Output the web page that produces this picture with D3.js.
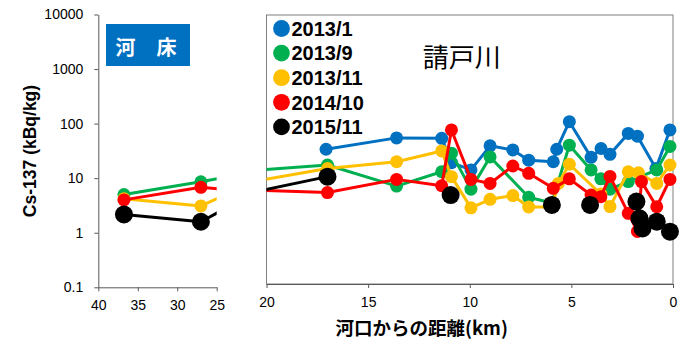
<!DOCTYPE html>
<html lang="ja">
<head>
  <meta charset="utf-8">
  <title>Cs-137 請戸川</title>
  <script src="https://d3js.org/d3.v7.min.js"></script>
  <style>
    body { margin: 0; background: #fff; }
    text { font-family: "Liberation Sans", Arial, sans-serif; }
    .jp { font-family: "Noto Sans CJK JP", sans-serif; }
  </style>
</head>
<body>
<script>
  var w = 689;
  var h = 357;

  // data: distance from river mouth (km) and Cs-137 (kBq/kg)
  var seriesNames = ["2013/1", "2013/9", "2013/11", "2014/10", "2015/11"];
  var seriesColors = ["#0070C0", "#00B050", "#FFC000", "#FF0000", "#000000"];

  var blueKm  = [17.07, 13.6, 11.38, 10.9, 9.94, 9.0, 7.88, 7.1, 5.89, 5.72, 5.1, 4.03, 3.54, 3.1, 2.2, 1.75, 0.84, 0.15];
  var blueVal = [32, 52, 51, 18, 13.2, 37, 31, 20, 18.7, 32, 104, 22.6, 33, 25.7, 63, 56, 14, 73];

  var greenKm  = [36.75, 27, 17, 13.6, 11.38, 10.9, 9.94, 9.0, 7.1, 5.96, 5.1, 4.03, 3.55, 3.1, 2.2, 0.8, 0.15];
  var greenVal = [5.0, 8.6, 16.3, 6.6, 12.2, 27, 5.8, 23, 4.1, 3.2, 38, 13.2, 9.0, 5.8, 8.0, 13.2, 36];

  var yellowKm  = [36.75, 27, 17, 13.6, 11.38, 10.9, 9.94, 9.0, 7.88, 7.1, 5.96, 5.64, 5.1, 3.55, 3.1, 2.2, 1.7, 0.8, 0.15];
  var yellowVal = [4.2, 3.1, 14, 18.7, 29.7, 9.9, 2.6, 3.75, 4.4, 2.7, 2.7, 7.4, 16.8, 4.7, 2.75, 12.2, 11.7, 7.4, 16.3];

  var redKm  = [36.75, 27, 17, 13.6, 11.38, 10.9, 9.94, 9.0, 7.88, 7.1, 5.89, 5.1, 4.03, 3.55, 3.1, 2.2, 1.75, 1.55, 0.8, 0.15];
  var redVal = [4.0, 6.8, 5.0, 8.8, 6.7, 73, 8.8, 7.4, 15.6, 11.4, 6.0, 9.0, 4.5, 4.2, 10, 2.06, 0.95, 8.0, 2.73, 8.8];

  // null = break in the line
  var blackKm  = [36.75, 27, 17, null, 10.94, null, 5.96, null, 4.08, null, 1.8, 1.65, 1.5, 0.8, 0.15];
  var blackVal = [2.17, 1.59, 9.9, null, 4.5, null, 2.95, null, 2.95, null, 3.4, 1.66, 1.08, 1.44, 0.94];

  var yTicks = [0.1, 1, 10, 100, 1000, 10000];
  var xTicksLeft = [40, 35, 30, 25];
  var xTicksRight = [20, 15, 10, 5, 0];

  var allKm = [blueKm, greenKm, yellowKm, redKm, blackKm];
  var allVal = [blueVal, greenVal, yellowVal, redVal, blackVal];
  var radius = [6.5, 6.5, 6.5, 6.5, 9];

  var series = allKm.map(function(km, i){
    return km.map(function(k, j){ return {km: k, v: allVal[i][j]}; });
  });

  var svg = d3.select("body").append("svg")
    .attr("width", w)
    .attr("height", h);

  // scales
  var xL = d3.scaleLinear().domain([40, 25]).range([98.3, 216.7]);
  var yL = d3.scaleLog().domain([0.1, 10000]).range([287.3, 14.5]);
  var xR = d3.scaleLinear().domain([20, 0]).range([266.5, 673]);
  var yR = d3.scaleLog().domain([0.1, 10000]).range([284, 15]);

  var defs = svg.append("defs");
  defs.append("clipPath").attr("id", "clipL").append("rect")
    .attr("x", 98.3).attr("y", 0).attr("width", 216.7 - 98.3).attr("height", 287.3);
  defs.append("clipPath").attr("id", "clipR").append("rect")
    .attr("x", 266.5).attr("y", 15).attr("width", 673 - 266.5).attr("height", 284 - 15);

  function styleAxis(g){
    g.select(".domain").attr("stroke", "#595959");
    g.selectAll(".tick line").attr("stroke", "#595959");
    g.selectAll(".tick text")
      .attr("fill", "#000")
      .style("font-family", "'Liberation Sans', Arial, sans-serif")
      .style("font-size", "14px");
  }

  // left panel axes
  svg.append("g")
    .attr("transform", "translate(98.3,0)")
    .call(d3.axisLeft(yL).tickValues(yTicks).tickSize(4).tickSizeOuter(0).tickPadding(11)
      .tickFormat(function(d){ return d; }))
    .call(styleAxis);

  svg.append("g")
    .attr("transform", "translate(0,287.3)")
    .call(d3.axisBottom(xL).tickValues(xTicksLeft).tickSize(4).tickSizeOuter(0).tickPadding(9))
    .call(styleAxis);

  // right panel frame + axis
  svg.append("rect")
    .attr("x", 266.5).attr("y", 15)
    .attr("width", 673 - 266.5).attr("height", 284 - 15)
    .attr("fill", "none")
    .attr("stroke", "#7f7f7f")
    .attr("stroke-width", 1);

  svg.append("g")
    .attr("transform", "translate(0,284)")
    .call(d3.axisBottom(xR).tickValues(xTicksRight).tickSize(4).tickSizeOuter(0).tickPadding(9))
    .call(styleAxis);

  function drawPanel(x, y, clipId, domain){
    var g = svg.append("g");
    series.forEach(function(data, i){
      var line = d3.line()
        .defined(function(d){ return d.v != null; })
        .x(function(d){ return x(d.km); })
        .y(function(d){ return y(d.v); });
      g.append("path")
        .datum(data)
        .attr("clip-path", "url(#" + clipId + ")")
        .attr("d", line)
        .attr("fill", "none")
        .attr("stroke", seriesColors[i])
        .attr("stroke-width", 3)
        .attr("stroke-linejoin", "round");
      g.selectAll(null)
        .data(data.filter(function(d){
          return d.v != null && d.km <= domain[0] && d.km >= domain[1];
        }))
        .enter()
        .append("circle")
        .attr("cx", function(d){ return x(d.km); })
        .attr("cy", function(d){ return y(d.v); })
        .attr("r", radius[i])
        .attr("fill", seriesColors[i]);
    });
  }

  drawPanel(xL, yL, "clipL", [40, 25]);
  drawPanel(xR, yR, "clipR", [20, 0]);

  // legend
  var legend = svg.append("g");
  seriesNames.forEach(function(name, i){
    var ly = 28.5 + i * 24.6;
    legend.append("circle")
      .attr("cx", 281.5).attr("cy", ly).attr("r", 8.4)
      .attr("fill", seriesColors[i]);
    legend.append("text")
      .attr("x", 291.5).attr("y", ly)
      .attr("dy", "0.36em")
      .attr("font-size", "20px")
      .attr("font-weight", "bold")
      .text(name);
  });

  // river name
  svg.append("text")
    .attr("class", "jp")
    .attr("x", 461.7).attr("y", 55)
    .attr("text-anchor", "middle")
    .attr("dominant-baseline", "central")
    .attr("font-size", "26px")
    .text("請戸川");

  // riverbed label box
  svg.append("rect")
    .attr("x", 106).attr("y", 24)
    .attr("width", 84).attr("height", 42)
    .attr("fill", "#0070C0");
  svg.append("text")
    .attr("class", "jp")
    .attr("x", 125.5).attr("y", 46.5)
    .attr("text-anchor", "middle")
    .attr("dominant-baseline", "central")
    .attr("font-size", "20px")
    .attr("font-weight", "bold")
    .attr("fill", "#fff")
    .text("河");
  svg.append("text")
    .attr("class", "jp")
    .attr("x", 166.5).attr("y", 46.5)
    .attr("text-anchor", "middle")
    .attr("dominant-baseline", "central")
    .attr("font-size", "20px")
    .attr("font-weight", "bold")
    .attr("fill", "#fff")
    .text("床");

  // axis titles
  svg.append("text")
    .attr("transform", "translate(30,151) rotate(-90)")
    .attr("text-anchor", "middle")
    .attr("dominant-baseline", "central")
    .attr("font-size", "17.5px")
    .attr("font-weight", "bold")
    .text("Cs-137 (kBq/kg)");

  svg.append("text")
    .attr("class", "jp")
    .attr("x", 421.7).attr("y", 326.7)
    .attr("text-anchor", "middle")
    .attr("dominant-baseline", "central")
    .attr("font-size", "18.5px")
    .attr("font-weight", "bold")
    .text("河口からの距離(km)");
</script>
</body>
</html>
